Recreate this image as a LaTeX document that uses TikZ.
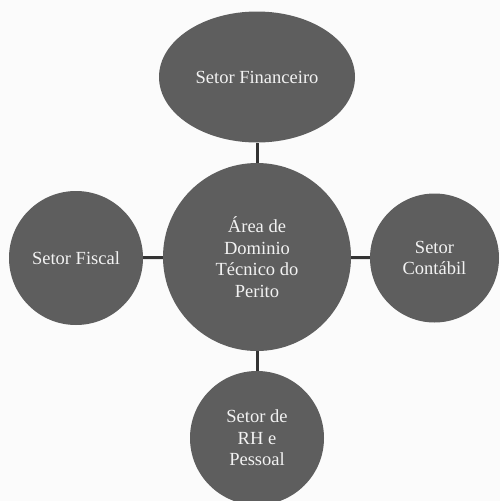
\documentclass[tikz,border=0pt]{standalone}
\usepackage{fontspec}
\setmainfont{Liberation Serif}
\usepackage{tikz}
\usetikzlibrary{shapes.geometric}
\definecolor{disc}{HTML}{5E5E5E}
\definecolor{paper}{HTML}{FBFBFB}
\definecolor{label}{HTML}{F2F2F2}
\definecolor{wire}{HTML}{333333}
\tikzset{
  setor/.style = {circle, fill=disc, text=label, align=center, inner sep=0pt,
                  font=\fontsize{18.5}{21.5}\selectfont},
  oval/.style  = {setor, ellipse},
  link/.style  = {line width=3pt, draw=wire},
}

\begin{document}
\begin{tikzpicture}[x=1pt, y=-1pt]
\fill[paper] (0,0) rectangle (500,501);
\useasboundingbox (0,0) rectangle (500,501);
\node[setor, minimum size=188pt] (centro) at (257,257) {Área de\\Dominio\\Técnico do\\Perito};
\node[oval, minimum width=196pt, minimum height=131pt] (fin) at (257,77) {Setor Financeiro};
\node[setor, minimum size=134pt] (fiscal) at (76,258) {Setor Fiscal};
\node[setor, minimum size=129pt] (cont) at (434.5,258) {Setor\\Contábil};
\node[setor, minimum size=134pt] (rh) at (257,438) {Setor de\\RH e\\Pessoal};
% connectors
\draw[link] (centro) -- (fin);
\draw[link] (centro) -- (fiscal);
\draw[link] (centro) -- (cont);
\draw[link] (centro) -- (rh);
\end{tikzpicture}
\end{document}
